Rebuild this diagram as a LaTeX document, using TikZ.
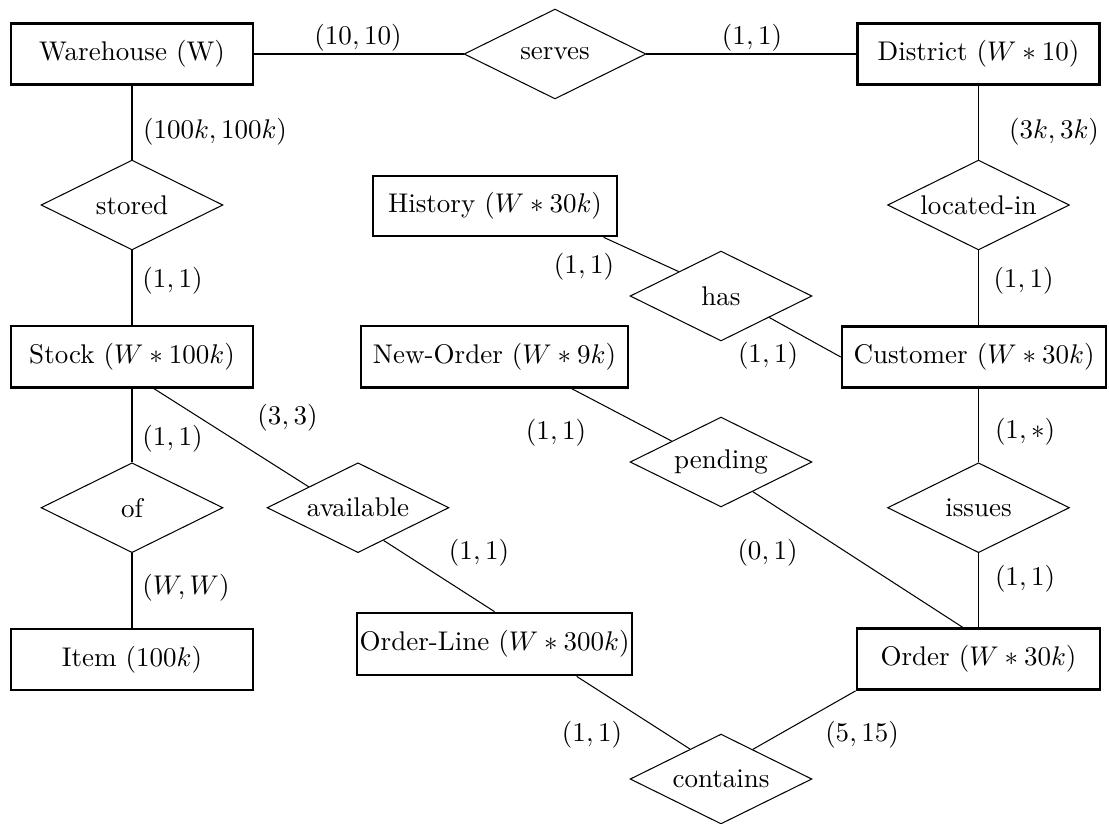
\RequirePackage{fix-cm}
\documentclass[tikz,border=0pt]{standalone}
\usetikzlibrary{shapes.geometric,calc}
\begin{document}
\begin{tikzpicture}[x=0.385pt, y=-0.385pt,
  every node/.style={font=\fontsize{10.4pt}{12.5pt}\selectfont},
  entity/.style={draw, rectangle, line width=1pt, minimum height=23.5pt, inner sep=1pt},
  rel/.style={draw, diamond, aspect=2, line width=0.4pt, minimum width=70pt, minimum height=34.6pt, inner sep=0pt},
  card/.style={inner sep=0pt},
  link/.style={line width=0.4pt}]
\useasboundingbox (0,0) rectangle (1109,823);

% entities
\node[entity, minimum width=93.2pt] (wh) at (132,54) {Warehouse (W)};
\node[entity, minimum width=93.2pt] (di) at (978.5,54) {District ($W*10$)};
\node[entity, minimum width=94pt, minimum height=23.1pt] (hi) at (495,206) {History ($W*30k$)};
\node[entity, minimum width=93.2pt] (st) at (132,356.7) {Stock ($W*100k$)};
\node[entity, minimum width=102.8pt] (no) at (494.5,356.7) {New-Order ($W*9k$)};
\node[entity, minimum width=101.6pt] (cu) at (974,357) {Customer ($W*30k$)};
\node[entity, minimum width=93.2pt] (it) at (132,659.5) {Item ($100k$)};
\node[entity, minimum width=105.1pt, minimum height=23.9pt] (ol) at (494.6,644) {Order-Line ($W*300k$)};
\node[entity, minimum width=93.6pt] (or) at (978.5,659) {Order ($W*30k$)};

% relationships
\node[rel] (serves) at (555,54) {serves};
\node[rel] (stored) at (132,205) {stored};
\node[rel] (locin) at (978.5,205) {located-in};
\node[rel] (has) at (721,296) {has};
\node[rel] (of) at (132,507.7) {of};
\node[rel] (avail) at (358,507.7) {available};
\node[rel] (pending) at (721,462) {pending};
\node[rel] (issues) at (978.5,507.7) {issues};
\node[rel] (contains) at (721,779) {contains};

% connectors
\draw[link] (wh) -- (serves);
\draw[link] (serves) -- (di);
\draw[link] (wh) -- (stored);
\draw[link] (stored) -- (st);
\draw[link] (st) -- (of);
\draw[link] (of) -- (it);
\draw[link] (di) -- (locin);
\draw[link] (locin.south) -- (locin.south |- cu.north);
\draw[link] (issues.north |- cu.south) -- (issues.north);
\draw[link] (issues) -- (or);
\draw[link] ($(hi.south)+(108.6,0)$) -- (has.150.4);
\draw[link] (has.-24.5) -- (cu.west);
\draw[link] ($(no.south)+(77,0)$) -- (pending.157.9);
\draw[link] (pending.-43.8) -- ($(or.north)+(-16,0)$);
\draw[link] ($(st.south)+(21.8,0)$) -- (avail.157.6);
\draw[link] (avail.-52.6) -- (ol.north);
\draw[link] ($(ol.south)+(82,0)$) -- (contains.136);
\draw[link] (contains.43) -- (or.south west);

% cardinalities
\node[card] (k1) at (358,38) {$(10,10)$};
\node[card] (k2) at (752,38) {$(1,1)$};
\node[card] (k3) at (215,132) {$(100k,100k)$};
\node[card] (k4) at (1054,132) {$(3k,3k)$};
\node[card] (k5) at (172.5,281) {$(1,1)$};
\node[card] (k6) at (1023.5,281) {$(1,1)$};
\node[card] (k7) at (584,267) {$(1,1)$};
\node[card] (k8) at (768,356) {$(1,1)$};
\node[card] (k9) at (287.5,418) {$(3,3)$};
\node[card] (k10) at (172.5,439) {$(1,1)$};
\node[card] (k11) at (556,432.5) {$(1,1)$};
\node[card] (k12) at (1025,432) {$(1,*)$};
\node[card] (k13) at (479,552.5) {$(1,1)$};
\node[card] (k14) at (767.5,552.5) {$(0,1)$};
\node[card] (k15) at (186,588) {$(W,W)$};
\node[card] (k16) at (1025,579) {$(1,1)$};
\node[card] (k17) at (592,735) {$(1,1)$};
\node[card] (k18) at (862,735) {$(5,15)$};
\end{tikzpicture}
\end{document}
